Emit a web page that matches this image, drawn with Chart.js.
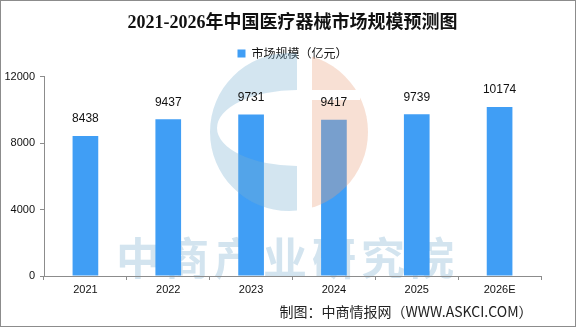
<!DOCTYPE html>
<html>
<head>
<meta charset="utf-8">
<script src="https://cdn.jsdelivr.net/npm/chart.js@4.4.0/dist/chart.umd.min.js"></script>
<style>
  body { margin: 0; background: #fff; }
  #wrap { position: relative; width: 576px; height: 327px; }
  #frame { position: absolute; left: 0; top: 0; width: 576px; height: 327px; box-sizing: border-box; border: 1px solid #8c8c8c; pointer-events: none; }
</style>
</head>
<body>
<div id="wrap">
  <canvas id="chart" width="576" height="327"></canvas>
  <div id="frame"></div>
</div>
<script>
// 数据
const years = ['2021', '2022', '2023', '2024', '2025', '2026E'];
const marketSize = [8438, 9437, 9731, 9417, 9739, 10174];
const yTicks = [0, 4000, 8000, 12000];

const chartTitle = '2021-2026年中国医疗器械市场规模预测图';
const seriesName = '市场规模（亿元）';
const sourceNote = '制图：中商情报网（WWW.ASKCI.COM）';
const watermark = '中商产业研究院';

const barBlue = '#409ef5';
const axisGrey = '#8c8c8c';

// 背景水印文字（在柱子下面）
const watermarkText = {
    id: 'watermarkText',
    beforeDraw(chart) {
        const ctx = chart.ctx;
        ctx.save();
        ctx.fillStyle = '#d3e4ef';
        ctx.font = 'bold 44px "Noto Sans CJK SC"';
        ctx.textAlign = 'center';
        ctx.textBaseline = 'middle';
        for (let i = 0; i < watermark.length; i++) {
            ctx.fillText(watermark[i], 138 + i * 49, 258);
        }
        ctx.restore();
    }
};

// 半透明logo + 柱顶数值 + 来源
const extras = {
    id: 'extras',
    afterDatasetsDraw(chart) {
        const ctx = chart.ctx;
        const cx = 289, cy = 132, r = 79;
        ctx.save();
        // 蓝色左半
        ctx.save();
        ctx.beginPath();
        ctx.rect(0, 0, 297, 327);
        ctx.clip();
        ctx.beginPath();
        ctx.arc(cx, cy, r, 0, Math.PI * 2);
        ctx.ellipse(297, 128, 80, 38, 0, 0, Math.PI * 2, true);
        ctx.fillStyle = 'rgba(120, 175, 210, 0.33)';
        ctx.fill('evenodd');
        ctx.restore();
        // 橙色右半
        ctx.save();
        ctx.beginPath();
        ctx.rect(312, 0, 264, 90);
        ctx.rect(312, 100, 264, 227);
        ctx.rect(360, 90, 216, 10);
        ctx.clip();
        ctx.beginPath();
        ctx.arc(cx, cy, r, 0, Math.PI * 2);
        ctx.fillStyle = 'rgba(235, 160, 125, 0.33)';
        ctx.fill();
        ctx.restore();

        const meta = chart.getDatasetMeta(0);
        ctx.fillStyle = '#111';
        ctx.font = '12px "Liberation Sans", "DejaVu Sans"';
        ctx.textAlign = 'center';
        ctx.textBaseline = 'bottom';
        meta.data.forEach((bar, i) => {
            ctx.fillText(String(marketSize[i]), bar.x, bar.y - 11);
        });
        ctx.font = '14px "Noto Sans CJK SC"';
        ctx.fillStyle = '#222';
        ctx.textBaseline = 'middle';
        ctx.fillText(sourceNote, 406, 312);
        ctx.restore();
    }
};

new Chart(document.getElementById('chart').getContext('2d'), {
    type: 'bar',
    data: {
        labels: years,
        datasets: [{
            label: seriesName,
            data: marketSize,
            backgroundColor: barBlue,
            borderWidth: 0,
            barPercentage: 0.62,
            categoryPercentage: 0.5
        }]
    },
    options: {
        responsive: false,
        animation: false,
        layout: { padding: { left: 0, right: 35, top: 7, bottom: 27 } },
        plugins: {
            title: {
                display: true,
                fullSize: false,
                text: chartTitle,
                color: '#111',
                font: { size: 18, weight: 'bold', family: '"Liberation Serif", "Noto Sans CJK SC"' },
                padding: { top: 6, bottom: 6 }
            },
            // 图例与绘图区之间的空隙
            subtitle: {
                display: true,
                text: ' ',
                weight: 500,
                font: { size: 1 },
                padding: { top: 0, bottom: 6 }
            },
            legend: {
                display: true,
                fullSize: false,
                position: 'top',
                labels: {
                    boxWidth: 8,
                    boxHeight: 8,
                    padding: 7,
                    color: '#111',
                    font: { size: 12, family: '"Noto Sans CJK SC"' }
                }
            },
            tooltip: { enabled: false }
        },
        scales: {
            x: {
                afterFit(scale) { scale.height = 24; },
                grid: { display: true, offset: true, drawOnChartArea: false, tickLength: 4, color: axisGrey },
                border: { color: axisGrey },
                ticks: { color: '#111', padding: 3, font: { size: 11, family: '"Liberation Sans", "DejaVu Sans"' } }
            },
            y: {
                min: 0,
                max: 12000,
                afterFit(scale) { scale.width = 44; },
                afterBuildTicks(scale) { scale.ticks = yTicks.map(v => ({ value: v })); },
                grid: { display: true, drawOnChartArea: false, tickLength: 4, color: axisGrey },
                border: { color: axisGrey },
                ticks: {
                    color: '#111',
                    padding: 5,
                    font: { size: 11, family: '"Liberation Sans", "DejaVu Sans"' },
                    callback: (v) => String(v)
                }
            }
        }
    },
    plugins: [watermarkText, extras]
});
</script>
</body>
</html>
